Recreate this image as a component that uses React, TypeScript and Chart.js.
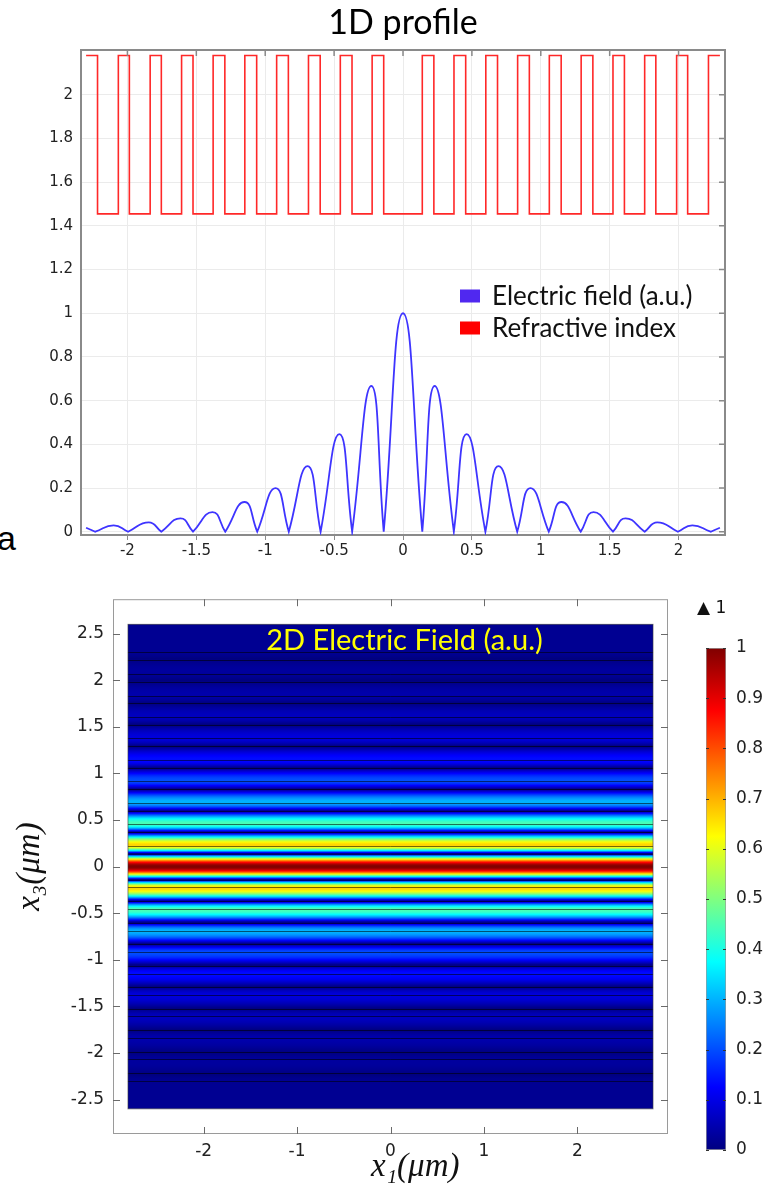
import React, { useEffect, useRef } from "react";
import { Chart, registerables } from "chart.js";

Chart.register(...registerables);

// ---------- 1D profile (top panel) ----------
const xTicks1D = [-2, -1.5, -1, -0.5, 0, 0.5, 1, 1.5, 2];
const yTicks1D = [0, 0.2, 0.4, 0.6, 0.8, 1, 1.2, 1.4, 1.6, 1.8, 2];

// Electric field: nodes (0) and lobe maxima, x in µm
const fieldX = [
  -2.3, -2.233, -2.1, -1.995, -1.845, -1.754, -1.615, -1.524, -1.383, -1.29,
  -1.15, -1.058, -0.925, -0.829, -0.693, -0.598, -0.462, -0.369, -0.23, -0.14,
  0,
  0.14, 0.23, 0.369, 0.462, 0.598, 0.693, 0.829, 0.925, 1.058, 1.15,
  1.29, 1.383, 1.524, 1.615, 1.754, 1.845, 1.995, 2.1, 2.233, 2.3,
];
const fieldY = [
  0.018, 0, 0.029, 0, 0.043, 0, 0.061, 0, 0.09, 0,
  0.136, 0, 0.2, 0, 0.3, 0, 0.447, 0, 0.667, 0,
  1,
  0, 0.667, 0, 0.447, 0, 0.3, 0, 0.2, 0, 0.136,
  0, 0.09, 0, 0.061, 0, 0.043, 0, 0.029, 0, 0.018,
];

// Refractive index: high-index layers (start / end, µm)
const highStart = [
  -2.3, -2.066, -1.835, -1.607, -1.378, -1.148, -0.917, -0.686, -0.455, -0.224,
  0.14, 0.37, 0.601, 0.832, 1.062, 1.293, 1.524, 1.754, 1.986, 2.217,
];
const highEnd = [
  -2.217, -1.986, -1.754, -1.524, -1.293, -1.062, -0.832, -0.601, -0.37, -0.14,
  0.224, 0.455, 0.686, 0.917, 1.148, 1.378, 1.607, 1.835, 2.066, 2.3,
];
const nHigh = 2.18;
const nLow = 1.455;

const seriesLabels = ["Electric field (a.u.)", "Refractive index"];

// ---------- 2D field (bottom panel) ----------
const heatX1 = [-2.81, 2.81]; // simulated x1 extent (µm)
const heatX3 = [-2.6, 2.6]; // simulated x3 extent (µm)
const xTicks2D = [-2, -1, 0, 1, 2];
const yTicks2D = [-2.5, -2, -1.5, -1, -0.5, 0, 0.5, 1, 1.5, 2, 2.5];
const cbTicks = [0, 0.1, 0.2, 0.3, 0.4, 0.5, 0.6, 0.7, 0.8, 0.9, 1];
const cbRange = [0, 1];

// ---------- helpers ----------
function jet(v: number): string {
  const c = (t: number) => Math.round(255 * Math.max(0, Math.min(1, t)));
  return `rgb(${c(1.5 - Math.abs(4 * v - 3))},${c(1.5 - Math.abs(4 * v - 2))},${c(
    1.5 - Math.abs(4 * v - 1)
  )})`;
}

function fieldPoints() {
  const pts: { x: number; y: number }[] = [];
  fieldX.forEach((x, i) => {
    pts.push({ x, y: fieldY[i] });
    if (fieldY[i] === 0) pts.push({ x, y: fieldY[i] }); // sharp node (cusp)
  });
  return pts;
}

function indexPoints() {
  const pts: { x: number; y: number }[] = [];
  highStart.forEach((s, i) => {
    if (i > 0) pts.push({ x: s, y: nLow });
    pts.push({ x: s, y: nHigh });
    pts.push({ x: highEnd[i], y: nHigh });
    if (i < highStart.length - 1) pts.push({ x: highEnd[i], y: nLow });
  });
  return pts;
}

// vertical gradient across the 2D map built from the field key points (jet colormap)
function fieldGradient(chart: any) {
  const { ctx, chartArea, scales } = chart;
  if (!chartArea || !scales.y) return jet(0);
  const y = scales.y;
  const yTop = y.getPixelForValue(heatX3[1]);
  const yBot = y.getPixelForValue(heatX3[0]);
  const g = ctx.createLinearGradient(0, yTop, 0, yBot);
  const add = (pos: number, val: number) => {
    const o = (y.getPixelForValue(pos) - yTop) / (yBot - yTop);
    g.addColorStop(Math.max(0, Math.min(1, o)), jet(val));
  };
  add(heatX3[1], fieldY[fieldY.length - 1]);
  add(heatX3[0], fieldY[0]);
  const S = 16;
  for (let i = 0; i < fieldX.length - 1; i++) {
    const a = fieldX[i], b = fieldX[i + 1], va = fieldY[i], vb = fieldY[i + 1];
    for (let k = 0; k <= S; k++) {
      const u = k / S;
      let v: number;
      if (va === 0) v = vb * Math.sin((u * Math.PI) / 2);
      else if (vb === 0) v = va * Math.cos((u * Math.PI) / 2);
      else v = va + (vb - va) * u;
      add(a + (b - a) * u, v);
    }
  }
  return g;
}

function colorbarGradient(chart: any) {
  const { ctx, chartArea, scales } = chart;
  if (!chartArea || !scales.y) return jet(0.5);
  const y = scales.y;
  const g = ctx.createLinearGradient(0, y.getPixelForValue(cbRange[0]), 0, y.getPixelForValue(cbRange[1]));
  for (let k = 0; k <= 32; k++) g.addColorStop(k / 32, jet(cbRange[0] + ((cbRange[1] - cbRange[0]) * k) / 32));
  return g;
}

const tickFont = { family: "'DejaVu Sans'", size: 15 };

// ---------- plugins ----------
const topFramePlugin = {
  id: "topFrame",
  afterDraw(chart: any) {
    const { ctx, chartArea: a, scales } = chart;
    ctx.save();
    ctx.strokeStyle = "#8a8a8a";
    ctx.lineWidth = 2;
    ctx.beginPath();
    ctx.moveTo(a.left, a.top);
    ctx.lineTo(a.right, a.top);
    ctx.lineTo(a.right, a.bottom);
    ctx.stroke();
    ctx.lineWidth = 1.5;
    ctx.beginPath();
    xTicks1D.forEach((v) => {
      const x = scales.x.getPixelForValue(v);
      ctx.moveTo(x, a.top);
      ctx.lineTo(x, a.top + 6);
    });
    yTicks1D.forEach((v) => {
      const y = scales.y.getPixelForValue(v);
      ctx.moveTo(a.right, y);
      ctx.lineTo(a.right - 6, y);
    });
    ctx.stroke();
    ctx.restore();
  },
};

const insideLegendPlugin = {
  id: "insideLegend",
  afterDatasetsDraw(chart: any) {
    const { ctx, chartArea } = chart;
    const x0 = chartArea.right - 265;
    const y0 = chartArea.top + 246;
    ctx.save();
    ctx.font = "26px Lato";
    ctx.textBaseline = "middle";
    ctx.textAlign = "left";
    chart.data.datasets.forEach((ds: any, i: number) => {
      const y = y0 + i * 32;
      ctx.fillStyle = ds.backgroundColor;
      ctx.fillRect(x0, y - 6.5, 20, 13);
      ctx.fillStyle = "#111";
      ctx.fillText(ds.label, x0 + 32, y + 1);
    });
    ctx.restore();
  },
};

const heatDecorPlugin = {
  id: "heatDecor",
  afterDatasetsDraw(chart: any) {
    const { ctx, chartArea: a, scales } = chart;
    const xl = scales.x.getPixelForValue(heatX1[0]);
    const xr = scales.x.getPixelForValue(heatX1[1]);
    ctx.save();
    // layer interfaces
    ctx.strokeStyle = "rgba(0,0,0,0.55)";
    ctx.lineWidth = 1;
    ctx.beginPath();
    [...highStart, ...highEnd].forEach((p) => {
      const y = Math.round(scales.y.getPixelForValue(p)) + 0.5;
      ctx.moveTo(xl, y);
      ctx.lineTo(xr, y);
    });
    ctx.stroke();
    // map outline
    ctx.strokeStyle = "rgba(60,60,60,0.6)";
    ctx.strokeRect(
      xl,
      scales.y.getPixelForValue(heatX3[1]),
      xr - xl,
      scales.y.getPixelForValue(heatX3[0]) - scales.y.getPixelForValue(heatX3[1])
    );
    // title in the map
    ctx.fillStyle = "#ffff00";
    ctx.font = "29px Lato";
    ctx.textAlign = "center";
    ctx.textBaseline = "middle";
    ctx.fillText(chart.data.datasets[0].label, (a.left + a.right) / 2 + 14, a.top + 41);
    ctx.restore();
  },
  afterDraw(chart: any) {
    const { ctx, chartArea: a, scales } = chart;
    ctx.save();
    ctx.strokeStyle = "#9a9a9a";
    ctx.lineWidth = 1;
    ctx.strokeRect(a.left + 0.5, a.top + 0.5, a.right - a.left - 1, a.bottom - a.top - 1);
    ctx.strokeStyle = "#6a6a6a";
    ctx.beginPath();
    xTicks2D.forEach((v) => {
      const x = Math.round(scales.x.getPixelForValue(v)) + 0.5;
      ctx.moveTo(x, a.top);
      ctx.lineTo(x, a.top + 7);
      ctx.moveTo(x, a.bottom);
      ctx.lineTo(x, a.bottom - 7);
    });
    yTicks2D.forEach((v) => {
      const y = Math.round(scales.y.getPixelForValue(v)) + 0.5;
      ctx.moveTo(a.left, y);
      ctx.lineTo(a.left + 7, y);
      ctx.moveTo(a.right, y);
      ctx.lineTo(a.right - 7, y);
    });
    ctx.stroke();
    ctx.restore();
  },
};

const colorbarDecorPlugin = {
  id: "cbDecor",
  afterDraw(chart: any) {
    const { ctx, chartArea: a, scales } = chart;
    ctx.save();
    ctx.strokeStyle = "#333";
    ctx.lineWidth = 1;
    ctx.beginPath();
    cbTicks.forEach((v) => {
      const y = Math.round(scales.y.getPixelForValue(v)) + 0.5;
      ctx.moveTo(a.left, y);
      ctx.lineTo(a.left + 3, y);
      ctx.moveTo(a.right, y);
      ctx.lineTo(a.right - 3, y);
    });
    ctx.stroke();
    ctx.fillStyle = "#111";
    ctx.font = "17px 'DejaVu Sans'";
    ctx.textBaseline = "alphabetic";
    ctx.textAlign = "left";
    ctx.fillText("\u25B2 " + Math.max(...fieldY), a.left - 9, a.top - 35);
    ctx.restore();
  },
};

// ---------- configs ----------
function topConfig(): any {
  return {
    type: "line",
    data: {
      datasets: [
        {
          label: seriesLabels[0],
          data: fieldPoints(),
          borderColor: "rgb(62,52,255)",
          backgroundColor: "#5028f0",
          borderWidth: 1.8,
          tension: 0.5,
          pointRadius: 0,
          fill: false,
        },
        {
          label: seriesLabels[1],
          data: indexPoints(),
          borderColor: "rgb(255,40,40)",
          backgroundColor: "#ff0000",
          borderWidth: 1.6,
          tension: 0,
          pointRadius: 0,
          fill: false,
        },
      ],
    },
    options: {
      responsive: false,
      animation: false,
      layout: { padding: { left: 0, right: 50, top: 0, bottom: 0 } },
      scales: {
        x: {
          type: "linear",
          min: -2.337,
          max: 2.337,
          afterBuildTicks: (s: any) => {
            s.ticks = xTicks1D.map((v) => ({ value: v }));
          },
          afterFit: (s: any) => {
            s.height = 30;
          },
          ticks: { font: tickFont, color: "#222", padding: 2, maxRotation: 0, callback: (v: any) => String(v) },
          grid: { color: "#ebebeb", lineWidth: 1, drawTicks: true, tickLength: 5, tickColor: "#8a8a8a" },
          border: { color: "#8a8a8a", width: 2 },
        },
        y: {
          type: "linear",
          min: -0.015,
          max: 2.205,
          afterBuildTicks: (s: any) => {
            s.ticks = yTicks1D.map((v) => ({ value: v }));
          },
          afterFit: (s: any) => {
            s.width = 46;
          },
          ticks: { font: tickFont, color: "#222", padding: 8, callback: (v: any) => String(v) },
          grid: { color: "#ebebeb", lineWidth: 1, drawTicks: false },
          border: { color: "#8a8a8a", width: 2 },
        },
      },
      plugins: {
        legend: { display: false },
        tooltip: { enabled: false },
        title: {
          display: true,
          fullSize: false,
          text: "1D profile",
          color: "#000",
          font: { family: "Lato", size: 34, weight: "normal" },
          padding: { top: 3, bottom: 6.2 },
        },
      },
    },
    plugins: [topFramePlugin, insideLegendPlugin],
  };
}

function heatConfig(): any {
  return {
    type: "line",
    data: {
      datasets: [
        {
          label: "2D Electric Field (a.u.)",
          data: [
            { x: heatX1[0], y: heatX3[1] },
            { x: heatX1[1], y: heatX3[1] },
          ],
          borderWidth: 0,
          borderColor: "rgba(0,0,0,0)",
          pointRadius: 0,
          tension: 0,
          fill: { target: { value: heatX3[0] } },
          backgroundColor: (c: any) => fieldGradient(c.chart),
        },
      ],
    },
    options: {
      responsive: false,
      animation: false,
      layout: { padding: { left: 0, right: 22, top: 18, bottom: 0 } },
      scales: {
        x: {
          type: "linear",
          min: -2.97,
          max: 2.97,
          afterBuildTicks: (s: any) => {
            s.ticks = xTicks2D.map((v) => ({ value: v }));
          },
          afterFit: (s: any) => {
            s.height = 52;
          },
          ticks: { font: { family: "'DejaVu Sans'", size: 17 }, color: "#222", padding: 7, maxRotation: 0, callback: (v: any) => String(v) },
          grid: { display: false, drawTicks: false },
          border: { display: false },
          title: {
            display: true,
            text: "\u2003\u2002x\u2081(\u03BCm)",
            color: "#111",
            font: { family: "'Liberation Serif'", size: 33, style: "italic" },
            padding: { top: 0, bottom: -1 },
          },
        },
        y: {
          type: "linear",
          min: -2.87,
          max: 2.87,
          afterBuildTicks: (s: any) => {
            s.ticks = yTicks2D.map((v) => ({ value: v }));
          },
          afterFit: (s: any) => {
            s.width = 113;
          },
          ticks: { font: { family: "'DejaVu Sans'", size: 17 }, color: "#222", padding: 9, callback: (v: any) => String(v) },
          grid: { display: false, drawTicks: false },
          border: { display: false },
          title: {
            display: true,
            text: "x\u2083(\u03BCm)",
            color: "#111",
            font: { family: "'Liberation Serif'", size: 33, style: "italic" },
            padding: { top: 11, bottom: 0 },
          },
        },
      },
      plugins: {
        legend: { display: false },
        tooltip: { enabled: false },
        title: { display: false },
      },
    },
    plugins: [heatDecorPlugin],
  };
}

function colorbarConfig(): any {
  return {
    type: "bar",
    data: {
      labels: ["E"],
      datasets: [
        {
          label: "colorbar",
          data: [cbRange[1]],
          backgroundColor: (c: any) => colorbarGradient(c.chart),
          borderColor: "#9a9a9a",
          borderWidth: 1,
          borderSkipped: false,
          barPercentage: 1,
          categoryPercentage: 1,
        },
      ],
    },
    options: {
      responsive: false,
      animation: false,
      layout: { padding: { left: 16, right: 0, top: 58, bottom: 36 } },
      scales: {
        x: { display: false },
        y: {
          position: "right",
          min: cbRange[0],
          max: cbRange[1],
          afterBuildTicks: (s: any) => {
            s.ticks = cbTicks.map((v) => ({ value: v }));
          },
          afterFit: (s: any) => {
            s.width = 49;
          },
          ticks: { font: { family: "'DejaVu Sans'", size: 17 }, color: "#222", padding: 10, callback: (v: any) => String(v) },
          grid: { display: false, drawTicks: false },
          border: { display: false },
        },
      },
      plugins: { legend: { display: false }, tooltip: { enabled: false } },
    },
    plugins: [colorbarDecorPlugin],
  };
}

export default function App() {
  const topRef = useRef<HTMLCanvasElement>(null);
  const heatRef = useRef<HTMLCanvasElement>(null);
  const cbRef = useRef<HTMLCanvasElement>(null);

  useEffect(() => {
    const charts = [
      new Chart(topRef.current as HTMLCanvasElement, topConfig()),
      new Chart(heatRef.current as HTMLCanvasElement, heatConfig()),
      new Chart(cbRef.current as HTMLCanvasElement, colorbarConfig()),
    ];
    return () => charts.forEach((c) => c.destroy());
  }, []);

  return (
    <div style={{ position: "absolute", left: 0, top: 0, width: 775, height: 1186, overflow: "hidden", background: "#fff" }}>
      <canvas ref={topRef} width={740} height={565} style={{ position: "absolute", left: 35, top: 0, display: "block" }} />
      <div
        style={{
          position: "absolute",
          left: -3,
          top: 521,
          font: "34px 'Liberation Sans'",
          lineHeight: "34px",
          color: "#000",
        }}
      >
        a
      </div>
      <canvas ref={heatRef} width={690} height={606} style={{ position: "absolute", left: 0, top: 580, display: "block" }} />
      <canvas ref={cbRef} width={85} height={596} style={{ position: "absolute", left: 690, top: 590, display: "block" }} />
    </div>
  );
}
